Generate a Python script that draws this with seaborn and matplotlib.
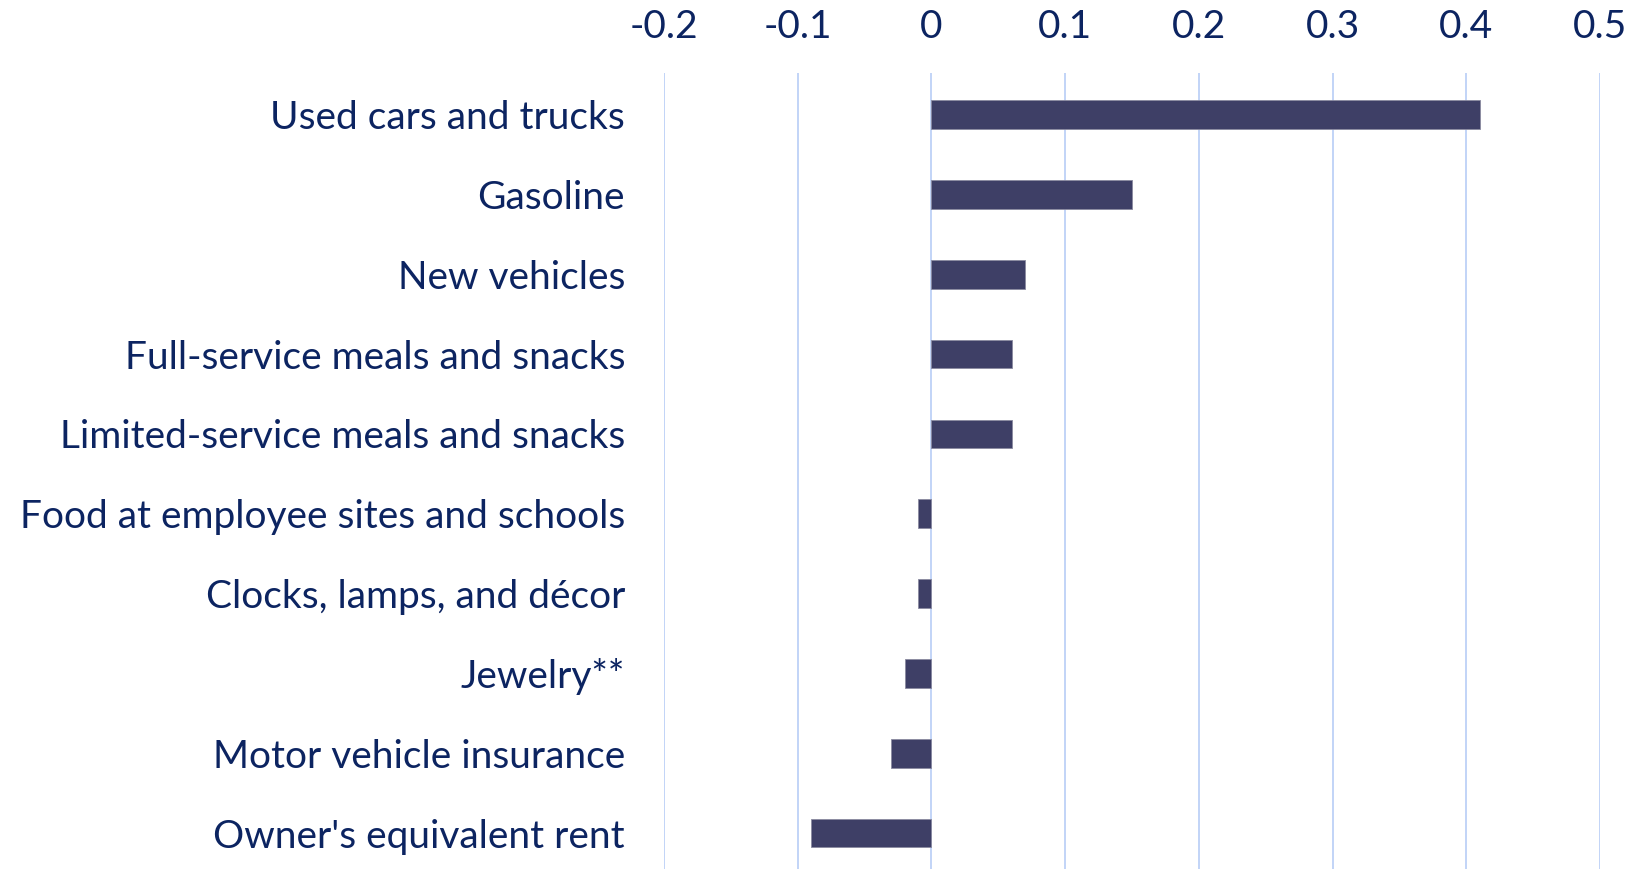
import matplotlib
matplotlib.use("Agg")
import matplotlib.pyplot as plt
import seaborn as sns
import pandas as pd

categories = ["Used cars and trucks", "Gasoline", "New vehicles",
              "Full-service meals and snacks", "Limited-service meals and snacks",
              "Food at employee sites and schools", "Clocks, lamps, and décor",
              "Jewelry**", "Motor vehicle insurance", "Owner's equivalent rent"]
values = [0.41, 0.15, 0.07, 0.06, 0.06, -0.01, -0.01, -0.02, -0.03, -0.09]
xticks = [-0.2, -0.1, 0, 0.1, 0.2, 0.3, 0.4, 0.5]
xticklabels = ["-0.2", "-0.1", "0", "0.1", "0.2", "0.3", "0.4", "0.5"]

df = pd.DataFrame({"category": categories, "value": values})

sns.set_theme(style="white")
plt.rcParams['font.family'] = ['Lato', 'DejaVu Sans']
text_color = "#0C2461"

fig = plt.figure(figsize=(16.39, 8.69), dpi=100)
ax = fig.add_axes([664/1639, 0, (1600-664)/1639, (869-73)/869])

sns.barplot(data=df, x="value", y="category", orient="h", color="#3E3F66",
            width=0.36, ax=ax, saturation=1, edgecolor="#8A8AA0", linewidth=0.6, zorder=3)

ax.set_xlim(-0.2, 0.5)
ax.set_ylim(9.45, -0.52)
ax.set_xticks(xticks)
ax.set_xticklabels(xticklabels)
ax.xaxis.tick_top()
ax.grid(axis="x", color="#C2D4F7", linewidth=1.4, zorder=0)
ax.grid(axis="y", visible=False)
for s in ax.spines.values():
    s.set_visible(False)
ax.set_xlabel("")
ax.set_ylabel("")
ax.tick_params(axis="x", length=0, pad=20, labelsize=28, labelcolor=text_color)
ax.tick_params(axis="y", length=0, pad=28, labelsize=28, labelcolor=text_color)

fig.savefig("out.png", dpi=100)
